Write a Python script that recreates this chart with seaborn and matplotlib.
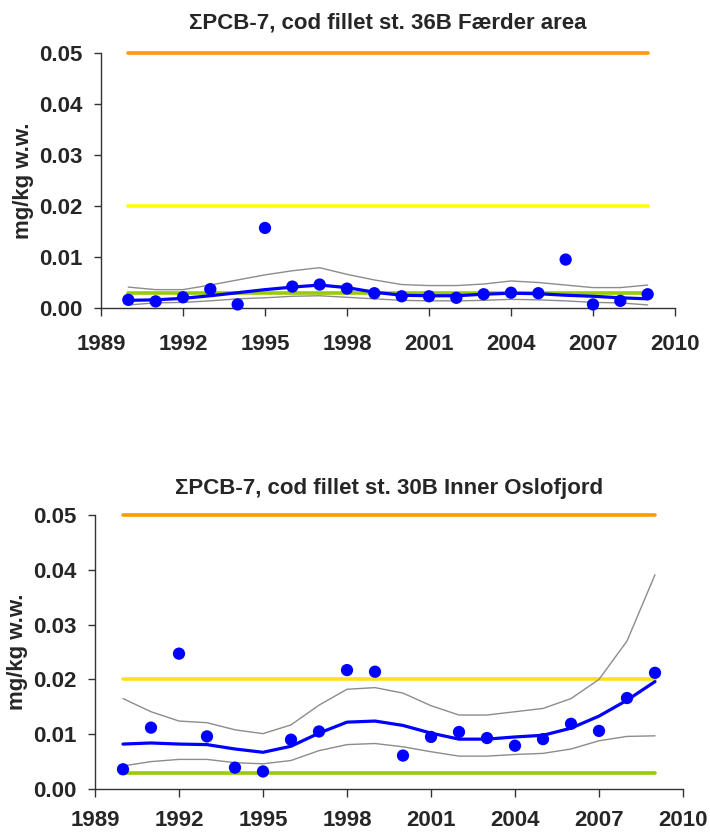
import matplotlib
matplotlib.use("Agg")
import matplotlib.pyplot as plt
import seaborn as sns
import numpy as np
import pandas as pd

# years with observations
years = list(range(1990, 2010))

# --- st. 36B Faerder area ---
faerder_obs = [0.0016, 0.0013, 0.0021, 0.0037, 0.0007, 0.0157, 0.0042, 0.0046, 0.0038, 0.0029,
               0.0023, 0.0023, 0.0020, 0.0027, 0.0030, 0.0029, 0.0095, 0.0007, 0.0014, 0.0027]
faerder_trend = [0.0015, 0.0016, 0.0019, 0.0024, 0.0030, 0.0036, 0.0041, 0.0045, 0.0040, 0.0031,
                 0.0025, 0.0024, 0.0024, 0.0027, 0.0029, 0.0028, 0.0025, 0.0023, 0.0020, 0.0018]
faerder_upper = [0.0041, 0.0036, 0.0036, 0.0045, 0.0055, 0.0065, 0.0073, 0.0079, 0.0066, 0.0055,
                 0.0046, 0.0044, 0.0044, 0.0047, 0.0053, 0.0050, 0.0045, 0.0040, 0.0040, 0.0045]
faerder_lower = [0.0006, 0.0010, 0.0011, 0.0014, 0.0018, 0.0020, 0.0023, 0.0024, 0.0021, 0.0018,
                 0.0015, 0.0014, 0.0014, 0.0015, 0.0017, 0.0016, 0.0014, 0.0011, 0.0010, 0.0006]

# --- st. 30B Inner Oslofjord ---
oslo_obs = [0.0036, 0.0112, 0.0247, 0.0096, 0.0039, 0.0032, 0.0090, 0.0105, 0.0217, 0.0214,
            0.0061, 0.0095, 0.0104, 0.0093, 0.0079, 0.0091, 0.0119, 0.0106, 0.0166, 0.0212]
oslo_trend = [0.0082, 0.0084, 0.0082, 0.0081, 0.0073, 0.0067, 0.0078, 0.0102, 0.0122, 0.0124,
              0.0116, 0.0102, 0.0091, 0.0091, 0.0095, 0.0098, 0.0111, 0.0133, 0.0162, 0.0196]
oslo_upper = [0.0165, 0.0141, 0.0124, 0.0121, 0.0108, 0.0101, 0.0117, 0.0153, 0.0182, 0.0185,
              0.0175, 0.0152, 0.0135, 0.0135, 0.0141, 0.0147, 0.0165, 0.0200, 0.0270, 0.0391]
oslo_lower = [0.0042, 0.0050, 0.0054, 0.0054, 0.0048, 0.0046, 0.0052, 0.0070, 0.0081, 0.0083,
              0.0077, 0.0068, 0.0060, 0.0060, 0.0063, 0.0065, 0.0073, 0.0088, 0.0096, 0.0097]

# class limits (mg/kg w.w.)
limit_values = [0.05, 0.02, 0.003]

titles = ["\u03a3PCB-7, cod fillet st. 36B F\u00e6rder area",
          "\u03a3PCB-7, cod fillet st. 30B Inner Oslofjord"]
x_ticks = [1989, 1992, 1995, 1998, 2001, 2004, 2007, 2010]
y_ticks = [0.00, 0.01, 0.02, 0.03, 0.04, 0.05]

sns.set_style("ticks")
plt.rcParams["font.family"] = ["Liberation Sans", "DejaVu Sans"]
plt.rcParams["font.weight"] = "bold"

fig = plt.figure(figsize=(7.1, 8.36), dpi=100)
W, H = 710, 836


def px_axes(left, top, right, bottom):
    return fig.add_axes([left / W, 1 - bottom / H, (right - left) / W, (bottom - top) / H])


panels = [
    (px_axes(101, 53, 675, 308), faerder_obs, faerder_trend, faerder_upper, faerder_lower,
     ["#FF9900", "#FFFF00", "#99CC00"], 13),
    (px_axes(95, 515, 683, 789), oslo_obs, oslo_trend, oslo_upper, oslo_lower,
     ["#FF9900", "#FFE11A", "#99CC00"], 9),
]

for ax, obs, trend, upper, lower, lcolors, xpad in panels:
    df = pd.DataFrame({"year": years, "obs": obs, "trend": trend,
                       "upper": upper, "lower": lower})

    for val, col in zip(limit_values, lcolors):
        ax.plot([years[0], years[-1]], [val, val], color=col, lw=2.6, zorder=2, clip_on=False)

    sns.lineplot(data=df, x="year", y="upper", color="#8c8c8c", lw=1.0, ax=ax, zorder=3)
    sns.lineplot(data=df, x="year", y="lower", color="#8c8c8c", lw=1.0, ax=ax, zorder=3)
    sns.lineplot(data=df, x="year", y="trend", color="#0000FF", lw=2.3, ax=ax, zorder=4)
    sns.scatterplot(data=df, x="year", y="obs", color="#0000FF", s=78, edgecolor="none",
                    ax=ax, zorder=5, clip_on=False)

    ax.set_xlim(1989, 2010)
    ax.set_ylim(0, 0.05)
    ax.set_xticks(x_ticks)
    ax.set_yticks(y_ticks)
    ax.set_yticklabels([f"{v:.2f}" for v in y_ticks])
    ax.tick_params(axis="x", length=6, width=1, pad=xpad, labelsize=16, color="#333333")
    ax.tick_params(axis="y", length=5, width=1, pad=8, labelsize=16, color="#333333")
    for lab in ax.get_xticklabels() + ax.get_yticklabels():
        lab.set_fontweight("bold")
    sns.despine(ax=ax)
    for sp in ["left", "bottom"]:
        ax.spines[sp].set_color("#333333")
        ax.spines[sp].set_linewidth(1.0)
    ax.set_xlabel("")
    ax.set_ylabel("mg/kg w.w.", fontsize=16, fontweight="bold", labelpad=4)

panels[0][0].set_title(titles[0], fontsize=16, fontweight="bold", pad=18)
panels[1][0].set_title(titles[1], fontsize=16, fontweight="bold", pad=15)

fig.savefig("out.png", dpi=100)
